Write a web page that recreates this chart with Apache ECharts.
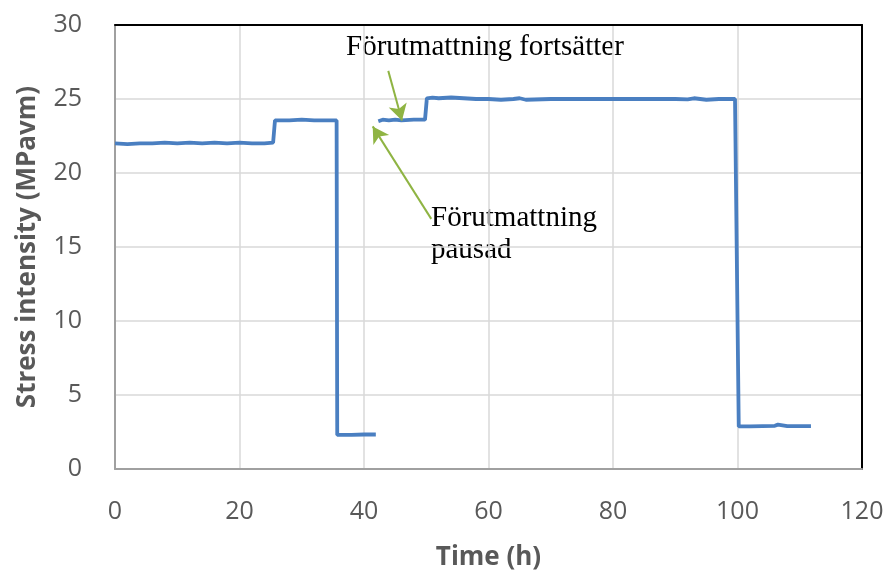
<!DOCTYPE html>
<html><head><meta charset="utf-8">
<script src="https://cdn.jsdelivr.net/npm/echarts@6/dist/echarts.min.js"></script>
<style>html,body{margin:0;padding:0;background:#fff}#c{width:890px;height:576px}</style>
</head><body><div id="c"></div>
<script>
var timeH = [0, 2, 4, 6, 8, 10, 12, 14, 16, 18, 20, 22, 24, 25.4, 25.7, 26, 28, 30, 32, 34, 35.6, 35.7, 36, 38, 40, 40.3, 40.6, 41.9, null,
  42.3, 43, 44, 45, 46, 48, 49.8, 50.1, 51, 52, 54, 56, 58, 60, 62, 64, 65, 66, 70, 75, 80, 85, 90, 92, 93, 95, 97, 99.6, 99.9, 100.2, 102, 104, 106, 106.5, 108, 110, 111.8];
var stress = [22.0, 21.95, 22.0, 22.0, 22.05, 22.0, 22.05, 22.0, 22.05, 22.0, 22.05, 22.0, 22.0, 22.05, 23.55, 23.6, 23.55, 23.6, 23.55, 23.55, 23.55, 2.3, 2.28, 2.3, 2.33, 2.45, 2.33, 2.33, null,
  23.5, 23.6, 23.55, 23.6, 23.55, 23.6, 23.6, 25.05, 25.1, 25.05, 25.1, 25.05, 25.0, 25.0, 24.95, 25.0, 25.05, 24.95, 25.0, 25.0, 25.0, 25.0, 25.0, 24.98, 25.05, 24.95, 25.0, 25.0, 24.9, 2.88, 2.88, 2.9, 2.92, 3.0, 2.9, 2.9, 2.9];
var xTicks = [0, 20, 40, 60, 80, 100, 120];
var yTicks = [0, 5, 10, 15, 20, 25, 30];
var xTitle = 'Time (h)';
var yTitle = 'Stress intensity (MPavm)';
var note1 = 'Förutmattning fortsätter';
var note2 = ['Förutmattning', 'pausad'];
var arrow1 = [[43.9, 26.9], [46.1, 23.55]];
var arrow2 = [[50.8, 16.9], [41.4, 23.15]];

var pts = timeH.map(function (t, i) { return t === null ? [null, null] : [t, stress[i]]; });
var tickFont = {fontFamily: 'Open Sans', fontSize: 25, color: '#595959'};
var titleFont = {fontFamily: 'Open Sans', fontSize: 26, fontWeight: 'bold', color: '#595959'};
var green = '#8fb443';
var serif = '29px "Liberation Serif"';

var chart = echarts.init(document.getElementById('c'), null, {renderer: 'canvas'});
chart.setOption({
  animation: false,
  grid: {left: 115, right: 28, top: 25, bottom: 104},
  xAxis: [{
    type: 'value', min: 0, max: 120, interval: 20,
    name: xTitle, nameLocation: 'middle', nameGap: 76, nameTextStyle: titleFont,
    axisLine: {show: true, onZero: false, lineStyle: {color: '#a0a0a0', width: 2}},
    axisTick: {show: false},
    axisLabel: Object.assign({margin: 30, formatter: function (v) { return xTicks.indexOf(v) >= 0 ? String(v) : ''; }}, tickFont),
    splitLine: {show: true, lineStyle: {color: '#d9d9d9', width: 1.5}}
  }, {
    type: 'value', min: 0, max: 120, position: 'top',
    axisLine: {show: true, onZero: false, lineStyle: {color: '#000', width: 2}},
    axisTick: {show: false}, axisLabel: {show: false}, splitLine: {show: false}
  }],
  yAxis: [{
    type: 'value', min: 0, max: 30, interval: 5,
    name: yTitle, nameLocation: 'middle', nameGap: 74, nameRotate: 90, nameTextStyle: titleFont,
    axisLine: {show: true, onZero: false, lineStyle: {color: '#a0a0a0', width: 2}},
    axisTick: {show: false},
    axisLabel: Object.assign({margin: 33, formatter: function (v) { return yTicks.indexOf(v) >= 0 ? String(v) : ''; }}, tickFont),
    splitLine: {show: true, lineStyle: {color: '#d9d9d9', width: 1.5}}
  }, {
    type: 'value', min: 0, max: 30, position: 'right',
    axisLine: {show: true, onZero: false, lineStyle: {color: '#000', width: 2}},
    axisTick: {show: false}, axisLabel: {show: false}, splitLine: {show: false}
  }],
  series: [{
    type: 'line', data: pts, connectNulls: false, showSymbol: false, symbol: 'none',
    lineStyle: {color: '#4a7fc1', width: 3.8},
    itemStyle: {color: '#4a7fc1'},
    markLine: {
      silent: true, symbol: ['none', 'arrow'], symbolSize: [14, 16],
      label: {show: false},
      lineStyle: {color: green, width: 2, type: 'solid'},
      data: [
        [{coord: arrow1[0]}, {coord: arrow1[1]}],
        [{coord: arrow2[0]}, {coord: arrow2[1]}]
      ]
    }
  }],
  graphic: [
    {type: 'text', left: 346, top: 33, style: {text: note1, font: serif, fill: '#000'}},
    {type: 'text', left: 431, top: 204, style: {text: note2[0], font: serif, fill: '#000'}},
    {type: 'text', left: 431, top: 236, style: {text: note2[1], font: serif, fill: '#000'}}
  ]
});
</script>
</body></html>
